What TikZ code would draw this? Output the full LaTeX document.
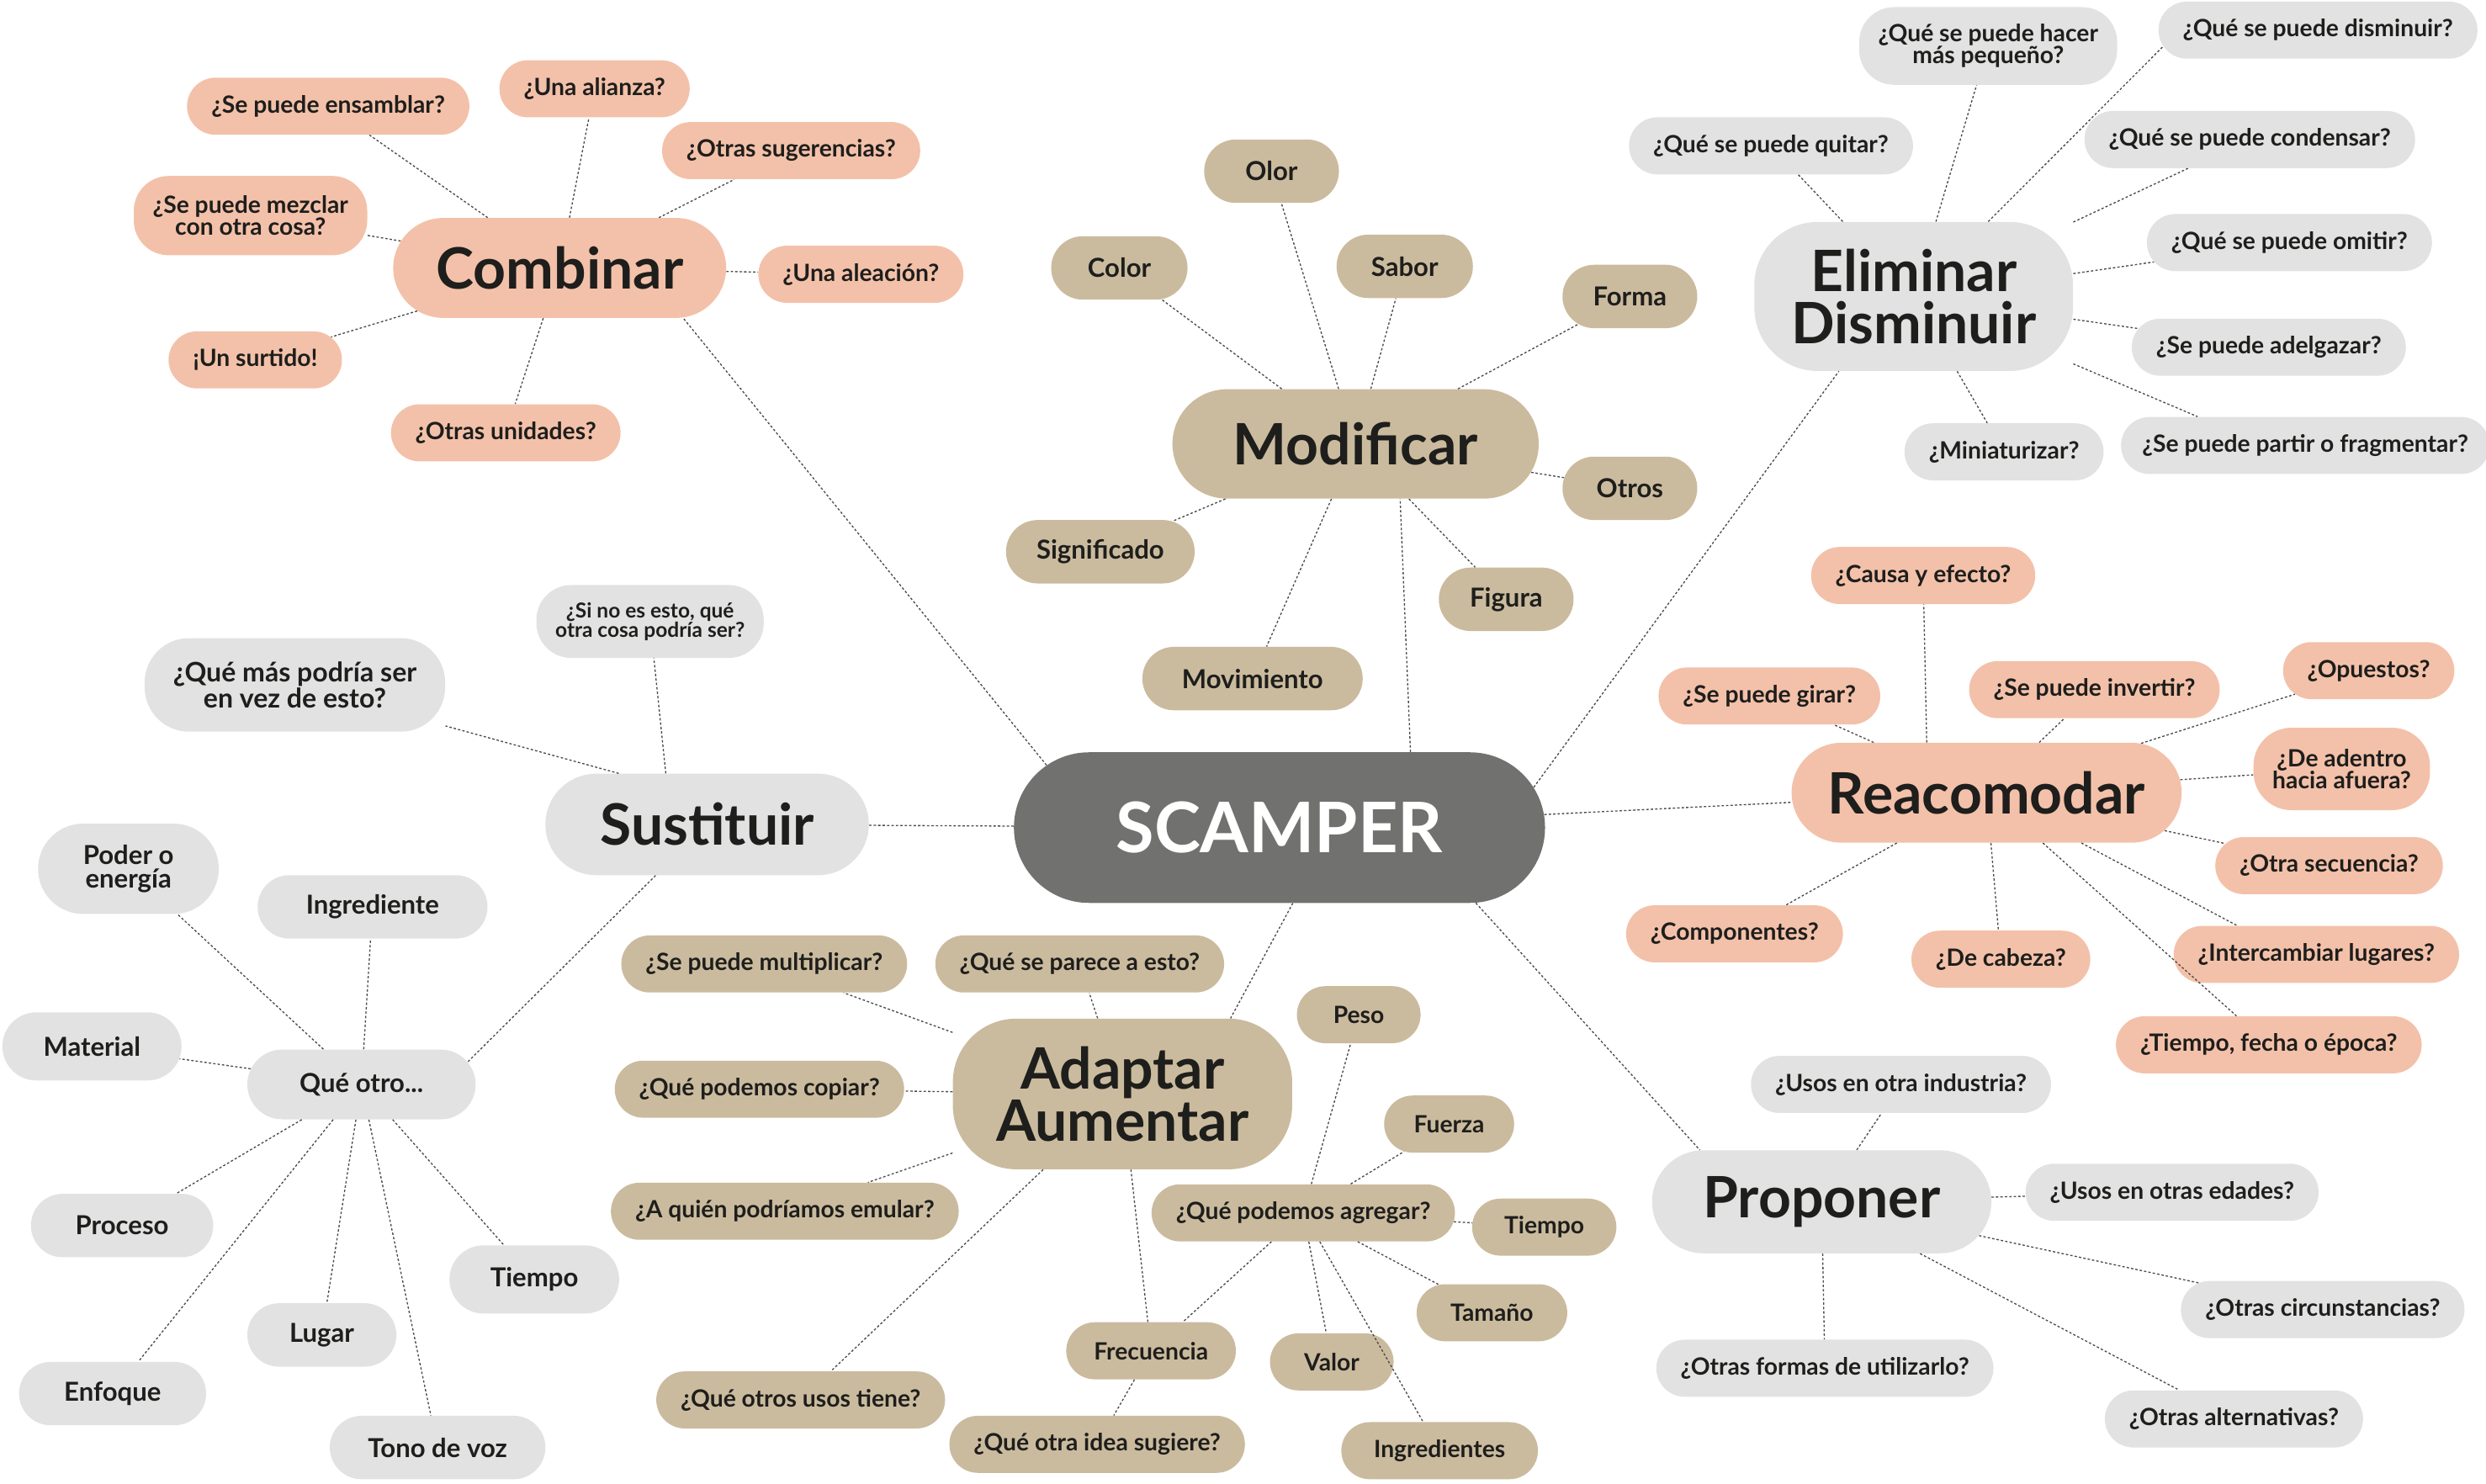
\documentclass[tikz,border=0pt]{standalone}
\usepackage{fontspec}
\setmainfont{Lato}
\usetikzlibrary{shapes.misc}
\definecolor{salmon}{HTML}{F3C1A9}
\definecolor{sand}{HTML}{CBBB9E}
\definecolor{pale}{HTML}{E2E2E2}
\definecolor{slate}{HTML}{717170}
\definecolor{ink}{HTML}{1E1E1C}
\definecolor{wire}{HTML}{4A4A4A}
\tikzset{%
    bub/.style={rounded rectangle,minimum height=36pt,inner xsep=14pt,inner ysep=3pt,align=center,text=ink,font=\fontsize{15}{14}\selectfont\bfseries},
    sal/.style={bub,fill=salmon},
    snd/.style={bub,fill=sand},
    gry/.style={bub,fill=pale},
    two/.style={rectangle,rounded corners=22pt,inner xsep=12pt},
    fix/.style={inner xsep=0pt,minimum width=#1},
    wrd/.style={minimum height=40pt,inner xsep=0pt,minimum width=#1,font=\fontsize{16.5}{15}\selectfont\bfseries},
    wrd/.default=85pt,
    hub/.style={inner xsep=0pt,font=\fontsize{36}{33}\selectfont\bfseries},
    lnk/.style={wire,line width=0.7pt,dash pattern=on 1.5pt off 1.3pt}
}
\begin{document}
\begin{tikzpicture}[x=1pt,y=-1pt]
        \useasboundingbox (0,0) rectangle (1568,935.5);

        % centre
        \node[bub,fill=slate,text=white,fix=335pt,minimum height=95pt,font=\fontsize{44}{44}\selectfont\bfseries] (scamper) at (807,522) {SCAMPER};

        % combinar
        \node[sal,hub,minimum width=210pt,minimum height=63pt] (comb) at (353,169) {Combinar};
        \node[sal] (c1) at (207,67) {¿Se puede ensamblar?};
        \node[sal] (c2) at (375,56) {¿Una alianza?};
        \node[sal] (c3) at (499,95) {¿Otras sugerencias?};
        \node[sal,two,minimum height=50pt] (c4) at (158,136) {¿Se puede mezclar\\con otra cosa?};
        \node[sal] (c5) at (543,173) {¿Una aleación?};
        \node[sal] (c6) at (161,227) {¡Un surtido!};
        \node[sal] (c7) at (319,273) {¿Otras unidades?};

        % modificar
        \node[snd,hub,minimum width=231pt,minimum height=69pt] (modi) at (855,280) {Modificar};
        \node[snd,wrd] (m1) at (802,108) {Olor};
        \node[snd,wrd=86pt] (m2) at (706,169) {Color};
        \node[snd,wrd=86pt] (m3) at (886,168) {Sabor};
        \node[snd,wrd] (m4) at (1028,187) {Forma};
        \node[snd,wrd] (m5) at (1028,308) {Otros};
        \node[snd,wrd=119pt] (m6) at (694,348) {Significado};
        \node[snd,wrd=139pt] (m7) at (790,428) {Movimiento};
        \node[snd,wrd] (m8) at (950,378) {Figura};

        % eliminar
        \node[gry,hub,rectangle,rounded corners=40pt,minimum width=201pt,minimum height=94pt] (elim) at (1207,187) {Eliminar\\Disminuir};
        \node[gry,two,minimum height=49pt] (e1) at (1254,29) {¿Qué se puede hacer\\más pequeño?};
        \node[gry] (e2) at (1462,19) {¿Qué se puede disminuir?};
        \node[gry] (e3) at (1117,92) {¿Qué se puede quitar?};
        \node[gry] (e4) at (1419,88) {¿Qué se puede condensar?};
        \node[gry] (e5) at (1444,153) {¿Qué se puede omitir?};
        \node[gry] (e6) at (1431,219) {¿Se puede adelgazar?};
        \node[gry,inner xsep=12pt] (e7) at (1454,281) {¿Se puede partir o fragmentar?};
        \node[gry] (e8) at (1264,285) {¿Miniaturizar?};

        % reacomodar
        \node[sal,hub,minimum width=246pt,minimum height=63pt] (reac) at (1253,500) {Reacomodar};
        \node[sal] (r1) at (1213,363) {¿Causa y efecto?};
        \node[sal] (r2) at (1116,439) {¿Se puede girar?};
        \node[sal] (r3) at (1321,435) {¿Se puede invertir?};
        \node[sal] (r4) at (1494,423) {¿Opuestos?};
        \node[sal,two,minimum height=52pt,rounded corners=24pt] (r5) at (1477,485) {¿De adentro\\hacia afuera?};
        \node[sal] (r6) at (1469,546) {¿Otra secuencia?};
        \node[sal] (r7) at (1094,589) {¿Componentes?};
        \node[sal] (r8) at (1262,605) {¿De cabeza?};
        \node[sal] (r9) at (1461,602) {¿Intercambiar lugares?};
        \node[sal] (r10) at (1431,659) {¿Tiempo, fecha o época?};

        % sustituir
        \node[gry,hub,minimum width=204pt,minimum height=64pt] (sust) at (446,520) {Sustituir};
        \node[gry,two,minimum height=46pt,font=\fontsize{13}{12}\selectfont\bfseries] (s1) at (410,392) {¿Si no es esto, qué\\otra cosa podría ser?};
        \node[gry,two,minimum height=59pt,rounded corners=28pt,inner xsep=18pt,font=\fontsize{17}{15.5}\selectfont\bfseries] (s2) at (186,432) {¿Qué más podría ser\\en vez de esto?};
        \node[gry,wrd=144pt,minimum height=44pt] (qo) at (228,684) {Qué otro...};
        \node[gry,wrd=114pt,minimum height=57pt] (q1) at (81,548) {Poder o\\energía};
        \node[gry,wrd=145pt] (q2) at (235,572) {Ingrediente};
        \node[gry,wrd=113pt,minimum height=43pt] (q3) at (58,660) {Material};
        \node[gry,wrd=115pt] (q4) at (77,773) {Proceso};
        \node[gry,wrd=107pt,minimum height=43pt] (q5) at (337,807) {Tiempo};
        \node[gry,wrd=94pt] (q6) at (203,842) {Lugar};
        \node[gry,wrd=118pt] (q7) at (71,879) {Enfoque};
        \node[gry,wrd=136pt] (q8) at (276,913) {Tono de voz};

        % adaptar
        \node[snd,hub,rectangle,rounded corners=40pt,minimum width=214pt,minimum height=95pt] (adap) at (708,690) {Adaptar\\Aumentar};
        \node[snd] (a1) at (482,608) {¿Se puede multiplicar?};
        \node[snd] (a2) at (681,608) {¿Qué se parece a esto?};
        \node[snd] (a3) at (479,687) {¿Qué podemos copiar?};
        \node[snd] (a4) at (495,764) {¿A quién podríamos emular?};
        \node[snd] (a5) at (505,883) {¿Qué otros usos tiene?};
        \node[snd,fix=107pt] (a6) at (726,852) {Frecuencia};
        \node[snd] (a7) at (692,911) {¿Qué otra idea sugiere?};
        \node[snd] (agr) at (822,765) {¿Qué podemos agregar?};
        \node[snd,fix=78pt] (g1) at (857,640) {Peso};
        \node[snd,fix=82pt] (g2) at (914,709) {Fuerza};
        \node[snd,fix=91pt] (g3) at (974,774) {Tiempo};
        \node[snd,fix=95pt] (g4) at (941,828) {Tamaño};
        \node[snd,fix=78pt] (g5) at (840,859) {Valor};
        \node[snd,fix=124pt] (g6) at (908,915) {Ingredientes};

        % proponer
        \node[gry,hub,minimum width=214pt,minimum height=65pt] (prop) at (1149,758) {Proponer};
        \node[gry] (p1) at (1199,684) {¿Usos en otra industria?};
        \node[gry] (p2) at (1370,752) {¿Usos en otras edades?};
        \node[gry] (p3) at (1465,826) {¿Otras circunstancias?};
        \node[gry] (p4) at (1151,863) {¿Otras formas de utilizarlo?};
        \node[gry] (p5) at (1409,895) {¿Otras alternativas?};

        \draw[lnk] (scamper.165) -- (comb.-22);
        \draw[lnk] (scamper.30) -- (modi.-51);
        \draw[lnk] (scamper.9) -- (elim.-135);
        \draw[lnk] (scamper) -- (reac);
        \draw[lnk] (scamper) -- (sust);
        \draw[lnk] (scamper.-80) -- (adap.35);
        \draw[lnk] (scamper.-21) -- (prop.157);

        \draw[lnk] (comb) -- (c1);
        \draw[lnk] (comb) -- (c2);
        \draw[lnk] (comb) -- (c3);
        \draw[lnk] (comb) -- (c4);
        \draw[lnk] (comb) -- (c5);
        \draw[lnk] (comb) -- (c6);
        \draw[lnk] (comb) -- (c7);

        \draw[lnk] (modi) -- (m1);
        \draw[lnk] (modi) -- (m2);
        \draw[lnk] (modi) -- (m3);
        \draw[lnk] (modi) -- (m4);
        \draw[lnk] (modi) -- (m5);
        \draw[lnk] (modi) -- (m6);
        \draw[lnk] (modi) -- (m7);
        \draw[lnk] (modi) -- (m8);

        \draw[lnk] (elim) -- (e1);
        \draw[lnk] (elim) -- (e2.186);
        \draw[lnk] (elim) -- (e3);
        \draw[lnk] (elim) -- (e4);
        \draw[lnk] (elim) -- (e5);
        \draw[lnk] (elim) -- (e6);
        \draw[lnk] (elim) -- (e7.165);
        \draw[lnk] (elim) -- (e8);

        \draw[lnk] (reac.140) -- (r1);
        \draw[lnk] (reac) -- (r2);
        \draw[lnk] (reac) -- (r3);
        \draw[lnk] (reac) -- (r4);
        \draw[lnk] (reac) -- (r5);
        \draw[lnk] (reac) -- (r6);
        \draw[lnk] (reac) -- (r7);
        \draw[lnk] (reac) -- (r8);
        \draw[lnk] (reac) -- (r9.160);
        \draw[lnk] (reac) -- (r10);

        \draw[lnk] (sust.129) -- (s1);
        \draw[lnk] (sust.150) -- (s2);
        \draw[lnk] (sust) -- (qo.12);
        \draw[lnk] (qo) -- (q1);
        \draw[lnk] (qo) -- (q2);
        \draw[lnk] (qo) -- (q3);
        \draw[lnk] (qo) -- (q4);
        \draw[lnk] (qo) -- (q5);
        \draw[lnk] (qo) -- (q6);
        \draw[lnk] (qo) -- (q7);
        \draw[lnk] (qo) -- (q8);

        \draw[lnk] (adap) -- (a1);
        \draw[lnk] (adap) -- (a2);
        \draw[lnk] (adap) -- (a3);
        \draw[lnk] (adap) -- (a4);
        \draw[lnk] (adap) -- (a5);
        \draw[lnk] (adap) -- (a6);
        \draw[lnk] (a6) -- (a7);
        \draw[lnk] (agr) -- (a6);
        \draw[lnk] (agr) -- (g1);
        \draw[lnk] (agr) -- (g2);
        \draw[lnk] (agr) -- (g3);
        \draw[lnk] (agr) -- (g4);
        \draw[lnk] (agr) -- (g5);
        \draw[lnk] (agr) -- (g6);

        \draw[lnk] (prop) -- (p1);
        \draw[lnk] (prop) -- (p2);
        \draw[lnk] (prop) -- (p3);
        \draw[lnk] (prop) -- (p4);
        \draw[lnk] (prop) -- (p5);
    \end{tikzpicture}
\end{document}
